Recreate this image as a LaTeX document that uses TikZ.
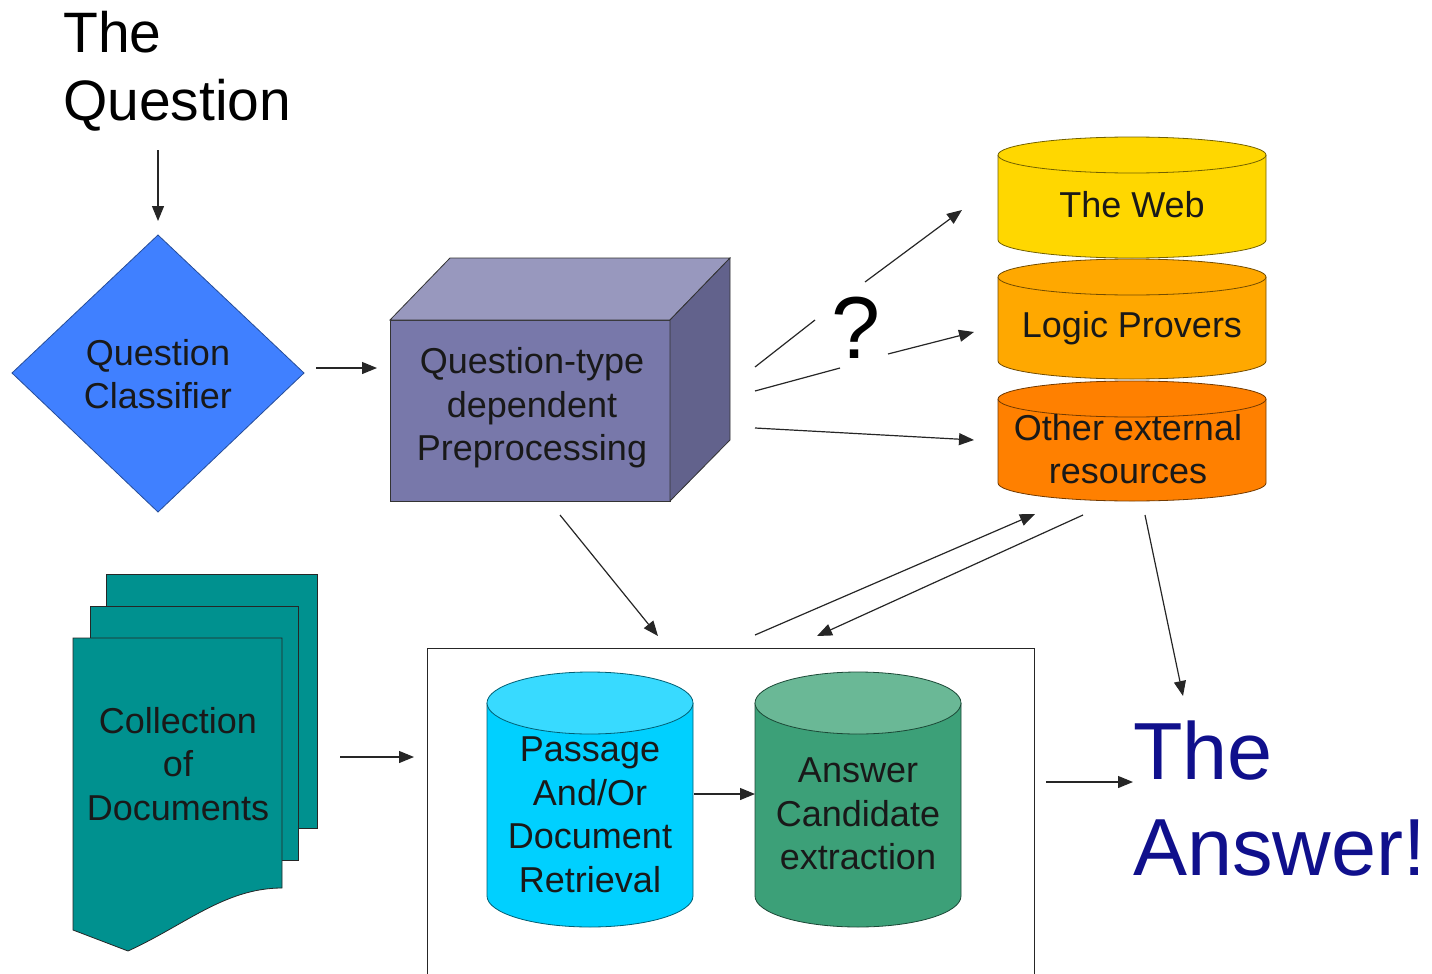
\documentclass[tikz,border=0pt]{standalone}
\usepackage{fontspec}
\setmainfont{Liberation Sans}
\usetikzlibrary{arrows.meta}
\definecolor{diamondblue}{RGB}{64,128,255}
\definecolor{boxfront}{RGB}{120,120,170}
\definecolor{boxtop}{RGB}{152,152,190}
\definecolor{boxside}{RGB}{98,98,140}
\definecolor{webc}{RGB}{255,215,0}
\definecolor{logicc}{RGB}{255,168,0}
\definecolor{otherc}{RGB}{255,128,0}
\definecolor{teal2}{RGB}{0,145,143}
\definecolor{passbody}{RGB}{0,208,255}
\definecolor{passtop}{RGB}{56,218,255}
\definecolor{ansbody}{RGB}{60,160,120}
\definecolor{anstop}{RGB}{106,184,150}
\definecolor{answerblue}{RGB}{16,16,140}
\newcommand{\drawcyl}[8]{%
  \fill[#7] (#2-#5,-#3) -- (#2-#5,-#4) arc[start angle=180,end angle=360,x radius=#5,y radius=#6] -- (#2+#5,-#3) -- cycle;
  \draw[cylline,draw=#7!45!black] (#2-#5,-#3) -- (#2-#5,-#4) arc[start angle=180,end angle=360,x radius=#5,y radius=#6] -- (#2+#5,-#3);
  \filldraw[cylline,fill=#8,draw=#7!45!black] (#2,-#3) ellipse[x radius=#5,y radius=#6];
}
\tikzset{
  cylline/.style={line width=0.8pt},
  arr/.style={line width=1.2pt,draw=black!85,-{Triangle[length=15pt,width=12pt]}},
  seg/.style={line width=1.2pt,draw=black!85},
  lbl/.style={font=\fontsize{36}{43.5}\selectfont,align=center,inner sep=0pt,text=black!90},
}
\begin{document}
\begin{tikzpicture}[x=1pt,y=1pt]
\useasboundingbox (0,0) rectangle (1432,-974);

% The Question
\node[anchor=north west,align=left,inner sep=0pt,font=\fontsize{57}{68}\selectfont] (q) at (63,-11) {The\\Question};
\coordinate (qa) at (158,-150);
\coordinate (qb) at (158,-221);
\draw[arr] (qa) -- (qb);

% Diamond
\draw[fill=diamondblue,draw=diamondblue!60!black,line width=0.8pt] (158,-235) -- (304,-373) -- (158,-512) -- (12,-373) -- cycle;
\node[lbl] (cls) at (158,-374) {Question\\Classifier};
\coordinate (ca) at (316,-368);
\coordinate (cb) at (377,-368);
\draw[arr] (ca) -- (cb);

% 3D box
\filldraw[fill=boxfront,draw=black!80,line width=0.8pt] (390,-320) rectangle (670,-501);
\filldraw[fill=boxtop,draw=black!80,line width=0.8pt] (390,-320) -- (450,-258) -- (730,-258) -- (670,-320) -- cycle;
\filldraw[fill=boxside,draw=black!80,line width=0.8pt] (670,-320) -- (730,-258) -- (730,-440) -- (670,-501) -- cycle;
\node[lbl] (pre) at (532,-408) {Question-type\\dependent\\Preprocessing};

% External resources
\drawcyl{web}{1132}{155}{240}{134}{18}{webc}{webc}
\node[lbl] (webt) at (1132,-205) {The Web};
\drawcyl{logic}{1132}{277}{361}{134}{18}{logicc}{logicc}
\node[lbl] (logict) at (1132,-328) {Logic Provers};
\drawcyl{other}{1132}{399}{483}{134}{18}{otherc}{otherc}
\node[lbl] (othert) at (1128,-449) {Other external\\resources};

% question mark and arrows
\node[inner sep=0pt,font=\fontsize{88}{96}\selectfont] (qm) at (856,-328) {?};
\coordinate (a1s) at (755,-367);
\coordinate (a1m) at (815,-320);
\coordinate (a1n) at (865,-282);
\coordinate (a1e) at (962,-210);
\draw[seg] (a1s) -- (a1m);
\draw[arr] (a1n) -- (a1e);
\coordinate (a2s) at (755,-391);
\coordinate (a2m) at (840,-368);
\coordinate (a2n) at (888,-354);
\coordinate (a2e) at (974,-332);
\draw[seg] (a2s) -- (a2m);
\draw[arr] (a2n) -- (a2e);
\coordinate (a3s) at (755,-428);
\coordinate (a3e) at (974,-440);
\draw[arr] (a3s) -- (a3e);

% Document stack
\filldraw[fill=teal2,draw=black!85,line width=0.8pt] (106,-574) rectangle (317,-828);
\filldraw[fill=teal2,draw=black!85,line width=0.8pt] (90,-606) rectangle (298,-860);
\filldraw[fill=teal2,draw=black!85,line width=0.8pt] (73,-638) -- (282,-638) -- (282,-888)
   .. controls (225,-888) and (185,-925) .. (128,-951) -- (73,-930) -- cycle;
\node[lbl] (docs) at (178,-764) {Collection\\of\\Documents};
\coordinate (da) at (340,-757);
\coordinate (db) at (414,-757);
\draw[arr] (da) -- (db);

% Big box
\draw[line width=1pt,draw=black!85] (427,-980) -- (427,-648) -- (1034,-648) -- (1034,-980);
\drawcyl{pass}{590}{703}{896}{103}{31}{passbody}{passtop}
\node[lbl] (passt) at (590,-815) {Passage\\And/Or\\Document\\Retrieval};
\drawcyl{ans}{858}{703}{896}{103}{31}{ansbody}{anstop}
\node[lbl] (anst) at (858,-814) {Answer\\Candidate\\extraction};
\coordinate (pa) at (694,-794);
\coordinate (pb) at (755,-794);
\draw[arr] (pa) -- (pb);

% arrows to/from box
\coordinate (b1s) at (560,-515);
\coordinate (b1e) at (658,-636);
\draw[arr] (b1s) -- (b1e);
\coordinate (b2s) at (755,-635);
\coordinate (b2e) at (1035,-514);
\draw[arr] (b2s) -- (b2e);
\coordinate (b3s) at (1083,-515);
\coordinate (b3e) at (817,-636);
\draw[arr] (b3s) -- (b3e);
\coordinate (b4s) at (1145,-515);
\coordinate (b4e) at (1183,-696);
\draw[arr] (b4s) -- (b4e);
\coordinate (b5s) at (1046,-782);
\coordinate (b5e) at (1133,-782);
\draw[arr] (b5s) -- (b5e);

% The Answer
\node[anchor=north west,align=left,inner sep=0pt,text=answerblue,font=\fontsize{81}{96}\selectfont] (answer) at (1133,-721) {The\\Answer!};
\end{tikzpicture}
\end{document}
